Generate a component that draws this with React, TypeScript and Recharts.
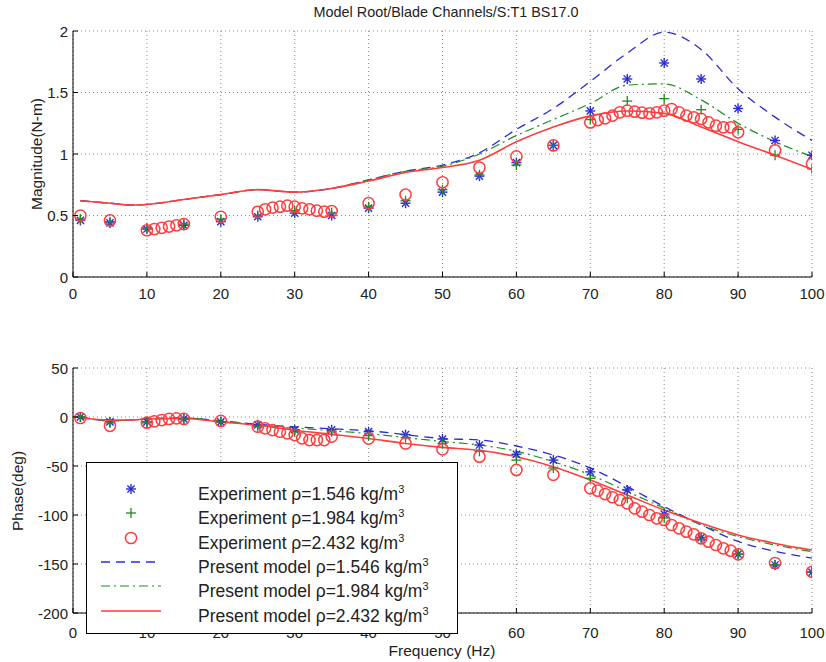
import { CartesianGrid, ComposedChart, Line, Scatter, XAxis, YAxis } from "recharts";

const FONT = "'Liberation Sans', Arial, Helvetica, sans-serif";
const BLUE = "#2b2bd6";
const GREEN = "#1e8c1e";
const RED = "#ff3d3d";

// measured frequencies (Hz)
const expFreq = [1, 5, 10, 15, 20, 25, 30, 35, 40, 45, 50, 55, 60, 65, 70, 75, 80, 85, 90, 95, 100];
const circleFreq = [
  1, 5, 10, 11, 12, 13, 14, 15, 20, 25, 26, 27, 28, 29, 30, 31, 32, 33, 34, 35, 40, 45, 50, 55, 60, 65,
  70, 71, 72, 73, 74, 75, 76, 77, 78, 79, 80, 81, 82, 83, 84, 85, 86, 87, 88, 89, 90, 95, 100,
];
const modelFreq = [1, 5, 8, 10, 15, 20, 25, 30, 35, 40, 45, 50, 55, 60, 65, 70, 75, 80, 85, 90, 95, 100];

// magnitude (N-m)
const magExp1546 = [0.46, 0.44, 0.39, 0.42, 0.45, 0.49, 0.52, 0.5, 0.56, 0.6, 0.69, 0.82, 0.93, 1.07, 1.35, 1.61, 1.74, 1.61, 1.37, 1.11, 0.99];
const magExp1984 = [0.47, 0.45, 0.4, 0.43, 0.47, 0.5, 0.54, 0.52, 0.57, 0.62, 0.71, 0.83, 0.91, 1.07, 1.28, 1.43, 1.45, 1.36, 1.2, 0.99, 0.88];
const magExp2432 = [
  0.5, 0.46, 0.38, 0.39, 0.4, 0.41, 0.42, 0.43, 0.49, 0.53, 0.55, 0.564, 0.572, 0.58, 0.572, 0.558, 0.55, 0.539, 0.531, 0.536,
  0.6, 0.67, 0.77, 0.89, 0.98, 1.07, 1.257, 1.276, 1.29, 1.312, 1.339, 1.352, 1.344, 1.336, 1.331, 1.339, 1.352, 1.366,
  1.339, 1.312, 1.298, 1.285, 1.257, 1.23, 1.217, 1.217, 1.176, 1.03, 0.92,
];
const magModel1546 = [0.62, 0.6, 0.585, 0.59, 0.63, 0.67, 0.71, 0.69, 0.72, 0.79, 0.86, 0.91, 1.01, 1.2, 1.37, 1.59, 1.82, 1.99, 1.85, 1.53, 1.3, 1.11];
const magModel1984 = [0.62, 0.6, 0.585, 0.59, 0.63, 0.67, 0.71, 0.69, 0.72, 0.79, 0.86, 0.9, 1.0, 1.15, 1.28, 1.41, 1.56, 1.57, 1.44, 1.25, 1.1, 0.98];
const magModel2432 = [0.62, 0.6, 0.585, 0.59, 0.63, 0.67, 0.71, 0.69, 0.72, 0.78, 0.85, 0.89, 0.95, 1.1, 1.22, 1.31, 1.35, 1.33, 1.22, 1.1, 0.99, 0.875];

// phase (deg)
const phaseExp1546 = [0, -5, -5, -2, -5, -8, -13, -13, -15, -18, -22.5, -28.6, -38, -44, -56, -74.5, -99, -123, -140, -151, -158.5];
const phaseExp1984 = [0, -6, -6, -2, -5, -10, -15, -15, -19, -21, -27, -35, -44, -52, -62.6, -83, -103, -125, -140, -151, -158];
const phaseExp2432 = [
  -1, -9, -5.8, -4.4, -3.1, -2, -1.4, -2, -4, -9.9, -11.6, -13.3, -15, -16.7, -18.4, -21.8, -23.5, -23.5, -23.5, -20,
  -22, -27, -33, -40.5, -54, -59, -72.8, -75.2, -78.6, -81.9, -84.7, -88.1, -93.2, -96.6, -100, -103.4, -105.1, -110.2,
  -113.6, -117, -119.7, -123.8, -127.2, -130.6, -134, -136.4, -140.1, -149, -158,
];
const phaseModel1546 = [0, -4, -3, -2, -1, -4, -7.5, -10, -12, -14, -18, -22, -23.5, -29.6, -38.8, -52, -71, -91.5, -110, -127, -137, -144];
const phaseModel1984 = [0, -4, -3, -2, -1, -4, -8, -11, -14, -17, -21, -25, -28.6, -35, -45.6, -59, -76, -93, -110, -122, -130.6, -137.4];
const phaseModel2432 = [-1, -3, -3, -2, -1.5, -5, -8.5, -13.5, -17.7, -22, -27, -31, -34, -40.5, -50.7, -64.3, -79.6, -95, -108.5, -120.4, -129, -135.7];

const freqTicks = [0, 10, 20, 30, 40, 50, 60, 70, 80, 90, 100];
const magTicks = [0, 0.5, 1, 1.5, 2];
const phaseTicks = [-200, -150, -100, -50, 0, 50];

const zip = (fs: number[], vs: number[]) => fs.map((f, i) => ({ f, v: vs[i] }));

const tickText = { fontFamily: FONT, fontSize: 15, fill: "#222" };

function BottomTick({ x, y, payload, gap }: any) {
  return (
    <g>
      <line x1={x} x2={x} y1={y - 5} y2={y} stroke="#000" />
      <text x={x} y={y + gap} textAnchor="middle" dominantBaseline="central" {...tickText}>
        {payload.value}
      </text>
    </g>
  );
}

function LeftTick({ x, y, payload }: any) {
  return (
    <g>
      <line x1={x} x2={x + 5} y1={y} y2={y} stroke="#000" />
      <text x={x - 5} y={y} textAnchor="end" dominantBaseline="central" {...tickText}>
        {payload.value}
      </text>
    </g>
  );
}

const TopTick = ({ x, y }: any) => <line x1={x} x2={x} y1={y} y2={y + 5} stroke="#000" />;
const RightTick = ({ x, y }: any) => <line x1={x - 5} x2={x} y1={y} y2={y} stroke="#000" />;

function StarMark({ cx, cy }: any) {
  const r = 5;
  const d = 3.6;
  return (
    <g stroke={BLUE} strokeWidth={1.4}>
      <line x1={cx - r} x2={cx + r} y1={cy} y2={cy} />
      <line x1={cx} x2={cx} y1={cy - r} y2={cy + r} />
      <line x1={cx - d} x2={cx + d} y1={cy - d} y2={cy + d} />
      <line x1={cx - d} x2={cx + d} y1={cy + d} y2={cy - d} />
    </g>
  );
}

function PlusMark({ cx, cy }: any) {
  const r = 5;
  return (
    <g stroke={GREEN} strokeWidth={1.3}>
      <line x1={cx - r} x2={cx + r} y1={cy} y2={cy} />
      <line x1={cx} x2={cx} y1={cy - r} y2={cy + r} />
    </g>
  );
}

const CircleMark = ({ cx, cy }: any) => <circle cx={cx} cy={cy} r={5.6} fill="none" stroke={RED} strokeWidth={1.5} />;

type PanelProps = {
  top: number;
  height: number;
  marginTop: number;
  tickGap: number;
  yTicks: number[];
  star: number[];
  plus: number[];
  circle: number[];
  m1546: number[];
  m1984: number[];
  m2432: number[];
};

function Panel({ top, height, marginTop, tickGap, yTicks, star, plus, circle, m1546, m1984, m2432 }: PanelProps) {
  const yDomain = [yTicks[0], yTicks[yTicks.length - 1]];
  return (
    <div style={{ position: "absolute", left: 0, top }}>
      <ComposedChart width={826} height={height} margin={{ top: marginTop, right: 14, bottom: 0, left: 0 }}>
        <CartesianGrid stroke="#8a8a8a" strokeDasharray="1 3" />
        <XAxis
          dataKey="f"
          type="number"
          domain={[0, 100]}
          ticks={freqTicks}
          interval={0}
          allowDataOverflow
          height={33}
          tickSize={0}
          tickMargin={0}
          axisLine={{ stroke: "#000" }}
          tickLine={false}
          tick={<BottomTick gap={tickGap} />}
        />
        <XAxis
          xAxisId="top"
          orientation="top"
          dataKey="f"
          type="number"
          domain={[0, 100]}
          ticks={freqTicks}
          interval={0}
          allowDataOverflow
          height={0}
          tickSize={0}
          tickMargin={0}
          axisLine={{ stroke: "#000" }}
          tickLine={false}
          tick={<TopTick />}
        />
        <YAxis
          dataKey="v"
          type="number"
          domain={yDomain}
          ticks={yTicks}
          interval={0}
          allowDataOverflow
          width={73}
          tickSize={0}
          tickMargin={0}
          axisLine={{ stroke: "#000" }}
          tickLine={false}
          tick={<LeftTick />}
        />
        <YAxis
          yAxisId="right"
          orientation="right"
          dataKey="v"
          type="number"
          domain={yDomain}
          ticks={yTicks}
          interval={0}
          allowDataOverflow
          width={0}
          tickSize={0}
          tickMargin={0}
          axisLine={{ stroke: "#000" }}
          tickLine={false}
          tick={<RightTick />}
        />
        <Scatter data={zip(expFreq, star)} dataKey="v" shape={<StarMark />} isAnimationActive={false} />
        <Scatter data={zip(expFreq, plus)} dataKey="v" shape={<PlusMark />} isAnimationActive={false} />
        <Scatter data={zip(circleFreq, circle)} dataKey="v" shape={<CircleMark />} isAnimationActive={false} />
        <Line
          data={zip(modelFreq, m1546)}
          dataKey="v"
          type="monotone"
          stroke={BLUE}
          strokeWidth={1.3}
          strokeDasharray="9 6"
          dot={false}
          isAnimationActive={false}
        />
        <Line
          data={zip(modelFreq, m1984)}
          dataKey="v"
          type="monotone"
          stroke={GREEN}
          strokeWidth={1.2}
          strokeDasharray="9 4 2 4"
          dot={false}
          isAnimationActive={false}
        />
        <Line
          data={zip(modelFreq, m2432)}
          dataKey="v"
          type="monotone"
          stroke={RED}
          strokeWidth={1.6}
          dot={false}
          isAnimationActive={false}
        />
      </ComposedChart>
    </div>
  );
}

const legendRows = [
  { kind: "star", label: "Experiment ρ=1.546 kg/m" },
  { kind: "plus", label: "Experiment ρ=1.984 kg/m" },
  { kind: "circle", label: "Experiment ρ=2.432 kg/m" },
  { kind: "dash", label: "Present model ρ=1.546 kg/m" },
  { kind: "dashdot", label: "Present model ρ=1.984 kg/m" },
  { kind: "solid", label: "Present model ρ=2.432 kg/m" },
];

function LegendKey({ kind }: { kind: string }) {
  return (
    <svg width={80} height={20} style={{ position: "absolute", left: 10, top: -10 }}>
      {kind === "star" && <StarMark cx={34} cy={10} />}
      {kind === "plus" && <PlusMark cx={34} cy={10} />}
      {kind === "circle" && <CircleMark cx={34} cy={10} />}
      {kind === "dash" && <line x1={4} x2={64} y1={10} y2={10} stroke={BLUE} strokeWidth={1.3} strokeDasharray="9 6" />}
      {kind === "dashdot" && (
        <line x1={4} x2={64} y1={10} y2={10} stroke={GREEN} strokeWidth={1.2} strokeDasharray="9 4 2 4" />
      )}
      {kind === "solid" && <line x1={4} x2={64} y1={10} y2={10} stroke={RED} strokeWidth={1.6} />}
    </svg>
  );
}

// legend box sits over the lower panel, hiding part of its axis labels
function Legend() {
  return (
    <div
      style={{
        position: "absolute",
        left: 86,
        top: 462,
        width: 370,
        height: 170,
        background: "#fff",
        border: "1px solid #000",
        fontFamily: FONT,
        fontSize: 17.5,
        color: "#222",
      }}
    >
      {legendRows.map((row, i) => (
        <div key={row.label} style={{ position: "absolute", left: 0, top: 26 + i * 24.3, width: "100%" }}>
          <LegendKey kind={row.kind} />
          <div style={{ position: "absolute", left: 111, top: -11, whiteSpace: "nowrap", lineHeight: "22px" }}>
            {row.label}
            <span style={{ fontSize: 11, verticalAlign: 7 }}>3</span>
          </div>
        </div>
      ))}
    </div>
  );
}

const label = { position: "absolute" as const, fontFamily: FONT, color: "#222", whiteSpace: "nowrap" as const };

export default function App() {
  return (
    <div style={{ position: "absolute", left: 0, top: 0, width: 826, height: 662, background: "#fff", overflow: "hidden" }}>
      <div style={{ ...label, left: 446, top: 12, fontSize: 14.4, transform: "translate(-50%, -50%)" }}>
        Model Root/Blade Channels/S:T1 BS17.0
      </div>
      <Panel
        top={0}
        height={310}
        marginTop={31}
        tickGap={16}
        yTicks={magTicks}
        star={magExp1546}
        plus={magExp1984}
        circle={magExp2432}
        m1546={magModel1546}
        m1984={magModel1984}
        m2432={magModel2432}
      />
      <Panel
        top={340}
        height={306}
        marginTop={28}
        tickGap={19}
        yTicks={phaseTicks}
        star={phaseExp1546}
        plus={phaseExp1984}
        circle={phaseExp2432}
        m1546={phaseModel1546}
        m1984={phaseModel1984}
        m2432={phaseModel2432}
      />
      <div style={{ ...label, left: 37, top: 154, fontSize: 15.5, transform: "translate(-50%, -50%) rotate(-90deg)" }}>
        Magnitude(N-m)
      </div>
      <div style={{ ...label, left: 18, top: 491, fontSize: 15.5, transform: "translate(-50%, -50%) rotate(-90deg)" }}>
        Phase(deg)
      </div>
      <div style={{ ...label, left: 442, top: 651, fontSize: 15.5, transform: "translate(-50%, -50%)" }}>
        Frequency (Hz)
      </div>
      <Legend />
    </div>
  );
}
